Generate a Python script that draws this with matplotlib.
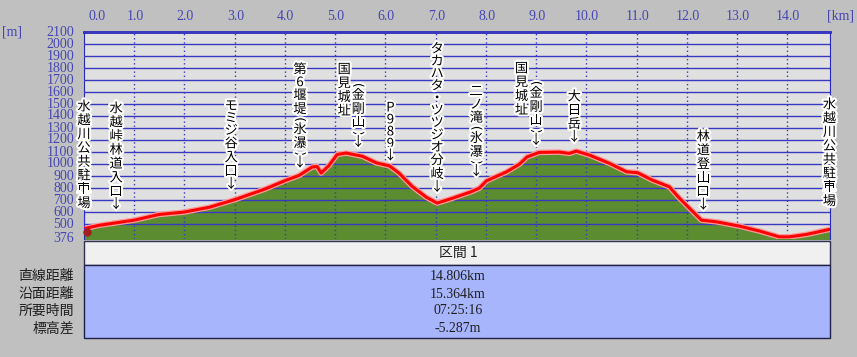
import matplotlib
matplotlib.use("Agg")
import matplotlib.pyplot as plt
import matplotlib.patheffects as pe
from matplotlib.patches import Rectangle

# elevation profile (horizontal distance km, elevation m)
dist_km = [0.00, 0.30, 1.00, 1.49, 1.99, 2.49, 3.01, 3.59, 4.02, 4.28, 4.54,
           4.64, 4.72, 4.88, 5.04, 5.22, 5.54, 5.82, 6.08, 6.27, 6.53, 6.81,
           7.03, 7.33, 7.71, 7.87, 8.01, 8.41, 8.67, 8.82, 9.06, 9.46, 9.66,
           9.80, 10.06, 10.46, 10.80, 11.02, 11.31, 11.65, 11.85, 12.05,
           12.29, 12.59, 13.05, 13.45, 13.84, 14.04, 14.38, 14.84]
elev_m = [462, 490, 533, 580, 600, 640, 705, 790, 865, 905, 975,
          980, 925, 990, 1080, 1092, 1065, 1010, 985, 925, 815, 725,
          675, 715, 770, 800, 860, 935, 1000, 1060, 1097, 1100, 1089,
          1108, 1075, 1006, 936, 928, 867, 811, 717, 633,
          533, 519, 483, 442, 394, 394, 414, 456]

km_ticks = [0.0, 1.0, 2.0, 3.0, 4.0, 5.0, 6.0, 7.0, 8.0, 9.0, 10.0, 11.0, 12.0, 13.0, 14.0]
m_ticks = [376, 500, 600, 700, 800, 900, 1000, 1100, 1200, 1300, 1400, 1500,
           1600, 1700, 1800, 1900, 2000, 2100]

# waypoint labels: (km, top of label in m, text)
waypoints = [
    (0.00, 1533, "水越川公共駐車場"),
    (0.64, 1517, "水越峠林道入口↓"),
    (2.93, 1533, "モミジ谷入口↓"),
    (4.30, 1842, "第6堰堤（氷瀑）↓"),
    (5.18, 1842, "国見城址"),
    (5.46, 1683, "（金剛山）↓"),
    (6.10, 1517, "P989↓"),
    (7.03, 2008, "タカハタ・ツツジオ分岐↓"),
    (7.81, 1658, "二ノ滝（氷瀑）↓"),
    (8.71, 1850, "国見城址"),
    (9.00, 1700, "（金剛山）↓"),
    (9.76, 1617, "大日岳↓"),
    (12.33, 1283, "林道登山口↓"),
    (14.84, 1550, "水越川公共駐車場"),
]

section_title = "区間 1"
summary_names = ["直線距離", "沿面距離", "所要時間", "標高差"]
summary_values = ["14.806km", "15.364km", "07:25:16", "-5.287m"]

W, H = 857, 357
BLUE = "#3838c0"
LBL = "#4646b4"
SERIF = "Liberation Serif"
CJK = ["Noto Sans CJK JP", "DejaVu Sans"]
M_PER_PX = 100 / 12


def fx(px):
    return px / W


def fy(py):
    return 1 - py / H


def glyph_h(c):
    # vertical advance of one character in pixels
    if c in "（）":
        return 6.5
    if c == "↓" or c.isascii():
        return 12
    if "\u30a0" <= c <= "\u30ff":
        return 12.3
    return 13.8


fig = plt.figure(figsize=(W / 100, H / 100), dpi=100, facecolor="#c0c0c0")
ax = fig.add_axes([fx(84), fy(239), fx(830) - fx(84), fy(32) - fy(239)])
ax.set_facecolor("#e0e0e0")
ax.set_xlim(0, 14.85)
ax.set_ylim(376, 2100)

for m in m_ticks[1:]:
    ax.axhline(m, color=BLUE, lw=1, zorder=3)
for k in km_ticks[1:]:
    ax.axvline(k, color=BLUE, lw=1, ls=(0, (1, 2)), zorder=3)

ax.fill_between(dist_km, elev_m, 376, color="#5b8c30", zorder=2)
ax.plot(dist_km, elev_m, color="#ff9a9a", lw=4, zorder=4, solid_capstyle="round")
ax.plot(dist_km, elev_m, color="#ff0000", lw=2.2, zorder=5, solid_capstyle="round")
ax.plot([dist_km[0] + 0.05], [elev_m[0] - 30], marker="o", ms=5, color="#a02020",
        zorder=6, clip_on=False)
ax.plot([dist_km[0], dist_km[0]], [elev_m[0], 650], color="#3030ff", lw=1,
        ls=(0, (1, 1)), zorder=6)

ax.set_xticks(km_ticks)
ax.set_yticks(m_ticks)
ax.xaxis.tick_top()
ax.tick_params(length=0)
ax.set_xticklabels([])
ax.set_yticklabels([])
for s in ["left", "top", "right"]:
    ax.spines[s].set_color("#2828b8")
ax.spines["top"].set_linewidth(2)
ax.spines["bottom"].set_visible(False)

# axis labels drawn in figure pixels
for k in km_ticks:
    px = 85 + k * 50.2 + (12 if k == 0 else 0)
    fig.text(fx(px), fy(16), f"{k:.1f}", ha="center", va="center",
             color=LBL, fontsize=10, family=SERIF)
fig.text(fx(840), fy(16), "[km]", ha="center", va="center", color=LBL,
         fontsize=10, family=SERIF)
fig.text(fx(12), fy(32), "[m]", ha="center", va="center", color=LBL,
         fontsize=10, family=SERIF)
for m in m_ticks:
    py = 32 + (2100 - m) / 100 * 12
    fig.text(fx(74), fy(py), str(m), ha="right", va="center", color=LBL,
             fontsize=10, family=SERIF)

halo = [pe.withStroke(linewidth=3, foreground="white")]
for k, top, txt in waypoints:
    y = top - glyph_h(txt[0]) / 2 * M_PER_PX
    for i, c in enumerate(txt):
        if i > 0:
            y -= (glyph_h(txt[i - 1]) + glyph_h(c)) / 2 * M_PER_PX
        if c in "（）":
            ax.text(k, y, "(" if c == "（" else ")", ha="center", va="center",
                    rotation=270, fontsize=9, family="DejaVu Sans", zorder=7,
                    clip_on=False, path_effects=halo)
        else:
            ax.text(k, y, c, ha="center", va="center", fontsize=9.5, family=CJK,
                    zorder=7, clip_on=False, path_effects=halo)

# summary table
fig.patches.append(Rectangle((fx(84), fy(265)), fx(830) - fx(84), fy(241) - fy(265),
                             transform=fig.transFigure, facecolor="#f0f0f0",
                             edgecolor="#303050", lw=1))
fig.patches.append(Rectangle((fx(84), fy(338)), fx(830) - fx(84), fy(265) - fy(338),
                             transform=fig.transFigure, facecolor="#a6b5fc",
                             edgecolor="#202048", lw=1))
fig.text(fx(458), fy(253), section_title, ha="center", va="center", fontsize=10,
         family=CJK, color="#202020")
rows_y = [276, 294, 311, 329]
for py, name, val in zip(rows_y, summary_names, summary_values):
    fig.text(fx(74), fy(py), name, ha="right", va="center", fontsize=10,
             family=CJK, color="#202020")
    fig.text(fx(458), fy(py), val, ha="center", va="center", fontsize=10,
             family=SERIF, color="#202020")

fig.savefig("out.png", dpi=100, facecolor=fig.get_facecolor())
